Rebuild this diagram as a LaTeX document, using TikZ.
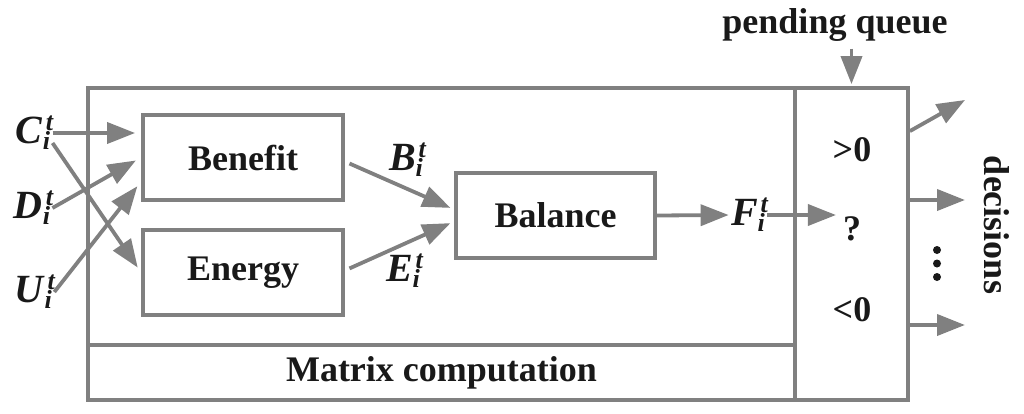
\documentclass[tikz,border=0pt]{standalone}
\usepackage{fontspec}
\setmainfont{Liberation Serif}
\usetikzlibrary{arrows.meta}
\definecolor{lg}{RGB}{128,128,128}
\definecolor{tx}{RGB}{25,25,25}
\newcommand\vari[1]{{\fontsize{20}{22}\selectfont\textit{#1}}\makebox[0pt][l]{\hspace{1.5pt}\raisebox{6.5pt}{\fontsize{13}{13}\selectfont\textit{t}}}\raisebox{-3pt}{\fontsize{13}{13}\selectfont\textit{i}}\hspace{2.5pt}}
\begin{document}
\begin{tikzpicture}[x=0.5pt,y=-0.5pt,
  every node/.style={text=tx,font=\fontsize{18}{21}\selectfont\bfseries},
  box/.style={draw=lg,line width=1.9pt,inner sep=0pt},
  lab/.style={inner sep=1pt},
  arr/.style={draw=lg,line width=1.9pt,-{Triangle[length=14pt,width=10.5pt]}}]
\useasboundingbox (0,0) rectangle (1024,413);
% frames
\node[box,minimum width=353.5pt,minimum height=128.5pt] (main) at (441.5,216.5) {};
\node[box,minimum width=353.5pt,minimum height=27.5pt] (matrix) at (441.5,372.5) {Matrix computation};
\node[box,minimum width=56.5pt,minimum height=156pt] (dec) at (851.5,244) {};
% blocks
\node[box,minimum width=100pt,minimum height=42.5pt] (benefit) at (243,157.5) {Benefit};
\node[box,minimum width=100pt,minimum height=42.5pt] (energy) at (243,272.5) {Energy};
\node[box,minimum width=99.5pt,minimum height=42.5pt] (balance) at (555.5,215.5) {Balance};
% labels
\node[lab] (C) at (33,133) {\vari{C}};
\node[lab] (D) at (32,208) {\vari{D}};
\node[lab] (U) at (33,292) {\vari{U}};
\node[lab] (B) at (406,160) {\vari{B}};
\node[lab] (E) at (403,271) {\vari{E}};
\node[lab] (F) at (748,215) {\vari{F}};
\node (gt) at (852,150) {>0};
\node (q) at (852,229) {?};
\node (lt) at (852,310) {<0};
\node (pq) at (835,25) {pending queue};
\node[rotate=-90] (decs) at (997,225) {decisions};
\fill[tx] (937,250) circle[radius=2pt] (937,263.5) circle[radius=2pt] (937,277) circle[radius=2pt];
% connectors
\draw[arr,shorten >=3pt] (C.east) -- (C.east -| benefit.west);
\draw[arr,shorten >=3pt] ([yshift=-5pt]C.east) -- (energy.west);
\draw[arr,shorten >=3pt] (D.east) -- (benefit.west);
\draw[arr,shorten >=3pt] (U.east) -- ([yshift=-12pt]benefit.west);
\draw[arr,shorten <=2.5pt,shorten >=2pt] ([yshift=-2pt]benefit.east) -- ([yshift=3pt]balance.west);
\draw[arr,shorten <=2.5pt,shorten >=2pt] ([yshift=1pt]energy.east) -- ([yshift=-3pt]balance.west);
\draw[arr] (balance.east) -- (F.west);
\draw[arr] (F.east) -- (F.east -| q.west);
\draw[arr,shorten >=1pt] (pq.south -| dec.north) -- (dec.north);
\coordinate (o1) at (965,100);
\coordinate (o2) at (965,200);
\coordinate (o3) at (965,325);
\draw[arr] ([yshift=-22.5pt]dec.north east) -- (o1);
\draw[arr] (dec.east |- o2) -- (o2);
\draw[arr] (dec.east |- o3) -- (o3);
\end{tikzpicture}
\end{document}
